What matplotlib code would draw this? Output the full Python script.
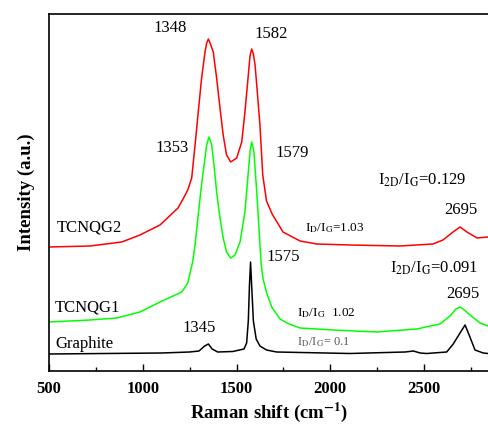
import numpy as np
import matplotlib
matplotlib.use('Agg')
import matplotlib.pyplot as plt
from matplotlib.ticker import MultipleLocator

plt.rcParams.update({
    'font.family': ['Liberation Serif', 'DejaVu Serif'],
    'mathtext.fontset': 'stix',
})

# ---------------------------------------------------------------- data
red_x = [500, 719, 888, 985, 1092, 1188, 1215, 1240, 1261, 1279, 1296, 1314, 1332, 1341,
         1350, 1359, 1376, 1394, 1412, 1429, 1447, 1469, 1501, 1528, 1545, 1563, 1572, 1581,
         1590, 1599, 1611, 1625, 1640, 1660, 1690, 1748, 1839, 1928, 2105, 2372, 2548, 2601,
         2655, 2692, 2729, 2783, 2841]
red_y = [124, 125, 129, 136, 146, 163, 172, 181, 193, 226, 259, 293, 319, 328,
         332, 328, 319, 293, 263, 236, 216, 209, 213, 229, 259, 296, 315, 322,
         317, 306, 279, 246, 196, 170, 157, 139, 130, 127, 126, 125, 127, 131,
         139, 144, 139, 133, 134]

green_x = [500, 719, 862, 985, 1092, 1208, 1240, 1266, 1279, 1296, 1309, 1327, 1341, 1353,
           1368, 1380, 1394, 1412, 1429, 1447, 1469, 1492, 1519, 1545, 1563, 1573, 1581, 1593,
           1608, 1622, 1632, 1642, 1661, 1688, 1732, 1780, 1839, 2015, 2248, 2461, 2585, 2639,
           2670, 2692, 2715, 2745, 2799, 2841]
green_y = [49, 51, 53, 59, 69, 79, 88, 109, 126, 156, 179, 206, 226, 234,
           226, 206, 179, 153, 133, 119, 113, 116, 129, 159, 199, 221, 229, 219,
           179, 136, 106, 92, 78, 64, 52, 47, 43, 41, 39, 42, 47, 55,
           62, 64, 61, 56, 48, 45]

graph_x = [500, 800, 1100, 1250, 1300, 1330, 1350, 1370, 1400, 1480, 1540, 1554, 1563, 1569,
           1575, 1581, 1590, 1605, 1625, 1660, 1714, 2105, 2400, 2443, 2480, 2514, 2621, 2656,
           2692, 2719, 2732, 2745, 2772, 2816, 2841]
graph_y = [17, 17.5, 18, 19, 20, 25, 27, 22, 19, 19.5, 22, 28, 50, 85,
           109, 85, 50, 32, 25, 21, 19, 17.5, 19, 20, 18, 17.5, 19, 27,
           38, 46, 40, 34, 21, 18, 17.5]

# peak labels: (text, x, y)
peak_labels = [('1348', 1144, 343), ('1582', 1685, 337), ('1353', 1156, 223),
               ('1579', 1796, 218), ('1575', 1748, 114), ('1345', 1300, 43),
               ('2695', 2697, 161), ('2695', 2705, 77)]
sample_labels = [('TCNQG2', 543, 144), ('TCNQG1', 532, 63), ('Graphite', 532, 27)]

fig = plt.figure(figsize=(4.88, 4.26), dpi=100)
ax = fig.add_axes([49 / 488, 55 / 426, 441 / 488, 357 / 426])

ax.plot(red_x, red_y, color='#ff0000', lw=1.1)
ax.plot(green_x, green_y, color='#00ff00', lw=1.1)
ax.plot(graph_x, graph_y, color='black', lw=1.1)

for txt, x, y in peak_labels:
    ax.text(x, y, txt, fontsize=12, ha='center', va='center')
for txt, x, y in sample_labels:
    ax.text(x, y, txt, fontsize=12, ha='left', va='center')

ax.text(2254, 191, r'I$_{\mathrm{2D}}$/I$_{\mathrm{G}}$=0.129', fontsize=12, va='center')
ax.text(2319, 103, r'I$_{\mathrm{2D}}$/I$_{\mathrm{G}}$=0.091', fontsize=12, va='center')
ax.text(1865, 143, r'I$_{\mathrm{D}}$/I$_{\mathrm{G}}$=1.03', fontsize=9.5, va='center')
ax.text(1822, 58, r'I$_{\mathrm{D}}$/I$_{\mathrm{G}}$  1.02', fontsize=9.5, va='center')
ax.text(1822, 29, r'I$_{\mathrm{D}}$/I$_{\mathrm{G}}$= 0.1', fontsize=9, va='center',
        color='#555555')

ax.set_xlim(500, 2852)
ax.set_ylim(0, 357)
ax.xaxis.set_major_locator(MultipleLocator(500))
ax.xaxis.set_minor_locator(MultipleLocator(250))
ax.tick_params(axis='x', which='major', direction='in', length=5, width=1, pad=7)
ax.tick_params(axis='x', which='minor', direction='in', length=3, width=1)
ax.set_yticks([])
for lbl in ax.get_xticklabels():
    lbl.set_fontweight('bold')
    lbl.set_fontsize(12)
ax.spines['right'].set_visible(False)
for s in ('left', 'bottom', 'top'):
    ax.spines[s].set_linewidth(1.2)

ax.set_xlabel(r'Raman shift (cm$^{\mathbf{-1}}$)', fontsize=13.5, fontweight='bold', labelpad=3)
ax.set_ylabel('Intensity (a.u.)', fontsize=13.5, fontweight='bold', labelpad=10)

fig.savefig('out.png', dpi=100)
